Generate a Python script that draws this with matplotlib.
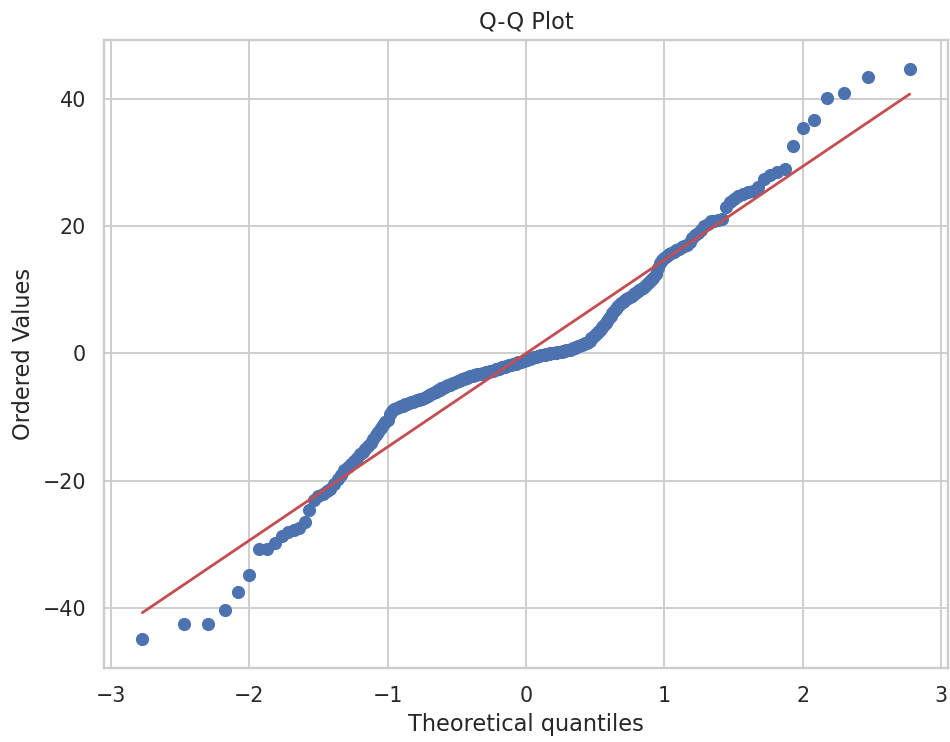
#!/usr/bin/env python

from statistics import NormalDist

import numpy as np
import matplotlib
matplotlib.use('Agg')
import matplotlib.pyplot as plt
import seaborn as sns

# ordered sample values (250 points)
lower_tail = [-45.0, -42.6, -42.5, -40.4, -37.6, -34.9, -30.8, -30.7, -29.8, -28.8,
              -28.1, -27.8, -27.5, -26.5, -24.7, -23.1, -22.5, -22.1, -21.7, -21.3,
              -20.5, -19.8, -19.2, -18.4, -17.8, -17.4, -17.0, -16.5, -15.9, -15.5,
              -15.1, -14.6, -14.1, -13.4, -12.8, -12.3, -11.8, -11.3, -10.8, -10.4,
              -9.6, -9.1, -8.8, -8.6, -8.4, -8.3, -8.2, -8.0, -7.9, -7.8]
middle_low = [-7.7, -7.6, -7.5, -7.4, -7.3, -7.2, -7.1, -7.0, -6.9, -6.7,
              -6.6, -6.4, -6.3, -6.1, -6.0, -5.8, -5.7, -5.5, -5.4, -5.3,
              -5.1, -5.0, -4.9, -4.8, -4.7, -4.6, -4.5, -4.4, -4.3, -4.2,
              -4.1, -4.0, -3.9, -3.8, -3.7, -3.6, -3.6, -3.5, -3.4, -3.4,
              -3.3, -3.3, -3.2, -3.2, -3.1, -3.1, -3.0, -3.0, -2.9, -2.8,
              -2.7, -2.7, -2.6, -2.5, -2.4, -2.4, -2.3, -2.2, -2.2, -2.1,
              -2.0, -2.0, -1.9, -1.8, -1.8, -1.7, -1.6, -1.6, -1.5, -1.4,
              -1.4, -1.3, -1.2, -1.2, -1.1]
middle_high = [-1.0, -0.9, -0.9, -0.8, -0.7, -0.6, -0.6, -0.5, -0.4, -0.4,
               -0.3, -0.3, -0.2, -0.2, -0.1, -0.1, -0.1, 0.0, 0.0, 0.1,
               0.1, 0.1, 0.2, 0.2, 0.3, 0.3, 0.4, 0.4, 0.5, 0.5,
               0.6, 0.6, 0.7, 0.8, 0.9, 1.0, 1.1, 1.2, 1.3, 1.4,
               1.5, 1.6, 1.7, 1.8, 1.9, 2.4, 2.6, 2.9, 3.1, 3.4,
               3.6, 3.9, 4.2, 4.5, 4.8, 5.1, 5.5, 5.9, 6.3, 6.7,
               7.0, 7.3, 7.6, 7.9, 8.1, 8.3, 8.5, 8.7, 8.9, 9.1,
               9.3, 9.5, 9.7, 9.9, 10.1]
upper_tail = [10.3, 10.6, 10.9, 11.2, 11.5, 11.8, 12.5, 13.4, 14.2, 14.7,
              15.0, 15.3, 15.6, 15.8, 16.0, 16.3, 16.5, 16.7, 16.9, 17.1,
              17.6, 18.1, 18.6, 19.0, 19.4, 20.0, 20.4, 20.8, 20.9, 21.0,
              21.1, 23.0, 23.8, 24.3, 24.8, 25.1, 25.4, 25.6, 26.2, 27.5,
              28.1, 28.6, 29.0, 32.6, 35.4, 36.7, 40.2, 41.0, 43.5, 44.8]

ordered = np.array(lower_tail + middle_low + middle_high + upper_tail)
n = ordered.size

# theoretical normal quantiles (Filliben medians, as scipy's probplot)
m = (np.arange(1, n + 1) - 0.3175) / (n + 0.365)
m[-1] = 0.5 ** (1.0 / n)
m[0] = 1 - m[-1]
osm = np.array([NormalDist().inv_cdf(p) for p in m])

slope, intercept = np.polyfit(osm, ordered, 1)

sns.set_theme(style = 'whitegrid')
fig = plt.figure(figsize = (950 / 135, 742 / 135), dpi = 135)
ax = fig.add_axes([0.1095, 0.0997, 0.8885, 0.8463])

ax.plot(osm, ordered, 'o', color = '#4C72B0')
ax.plot(osm, slope * osm + intercept, '-', color = '#C44E52')

ax.set_title('Q-Q Plot')
ax.set_xlabel('Theoretical quantiles')
ax.set_ylabel('Ordered Values')
ax.set_xticks([-3, -2, -1, 0, 1, 2, 3])
ax.set_yticks([-40, -20, 0, 20, 40])

fig.savefig('out.png', dpi = 135)
